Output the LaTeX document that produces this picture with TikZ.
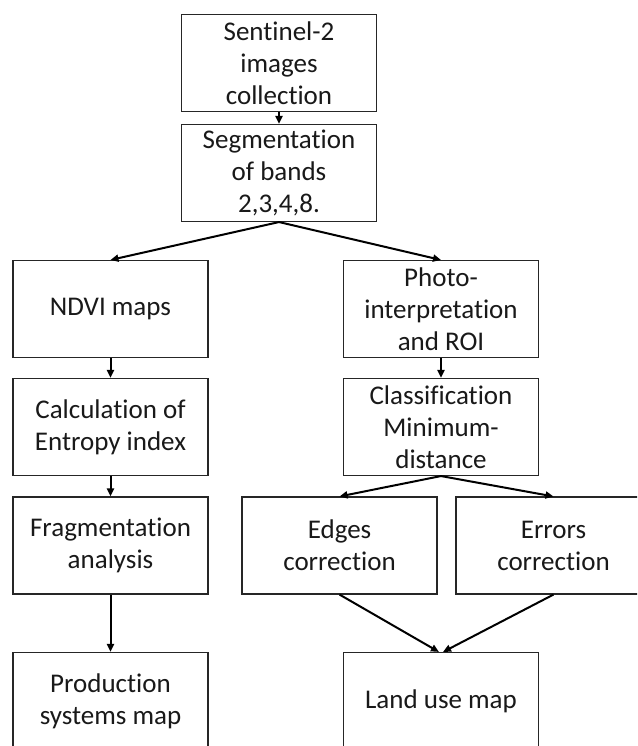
\documentclass[tikz,border=0pt]{standalone}
\usepackage{fontspec}
\setmainfont{Carlito}[Ligatures=NoCommon]
\usetikzlibrary{arrows.meta}
\begin{document}
\begin{tikzpicture}[x=1pt,y=-1pt,
  stepbox/.style={draw=black!85, line width=1.1pt, rectangle, align=center,
    minimum width=195pt, minimum height=97pt, inner sep=2pt,
    font=\fontsize{27}{32}\selectfont, text=black!90},
  flow/.style={line width=2pt, -{Triangle[length=8pt,width=7pt]}}]
  % page frame; boxes at the lower and right edges run past it
  \clip (0,0) rectangle (637,746);
  \fill[white] (0,0) rectangle (637,746);

  % top of the chain
  \node[stepbox] (src) at (279,63) {Sentinel-2\\images\\collection};
  \node[stepbox] (seg) at (279,173) {Segmentation\\of bands\\2,3,4,8.};

  % left branch
  \node[stepbox] (ndvi) at (110.5,309) {NDVI maps};
  \node[stepbox] (ent) at (110.5,427) {Calculation of\\Entropy index};
  \node[stepbox] (frag) at (110.5,545.5) {Fragmentation\\analysis};
  \node[stepbox] (prod) at (110.5,701) {Production\\systems map};

  % right branch
  \node[stepbox] (photo) at (441,309) {Photo-\\interpretation\\and ROI};
  \node[stepbox] (cls) at (441,427) {Classification\\Minimum-\\distance};
  \node[stepbox] (edge) at (339.5,545.5) {Edges\\correction};
  \node[stepbox] (err) at (553.5,545.5) {Errors\\correction};
  \node[stepbox] (land) at (441,701) {Land use map};

  % connectors
  \draw[flow] (src) -- (seg);
  \draw[flow] (seg.south) -- (ndvi.north);
  \draw[flow] (seg.south) -- (photo.north);
  \draw[flow] (ndvi) -- (ent);
  \draw[flow] (ent) -- (frag);
  \draw[flow] (frag) -- (prod);
  \draw[flow] (photo) -- (cls);
  \draw[flow] (cls.south) -- (edge.north);
  \draw[flow] (cls.south) -- (err.north);
  \draw[flow] (edge.south) -- ([xshift=-2pt]land.north);
  \draw[flow] (err.south) -- ([xshift=2pt]land.north);
\end{tikzpicture}
\end{document}
